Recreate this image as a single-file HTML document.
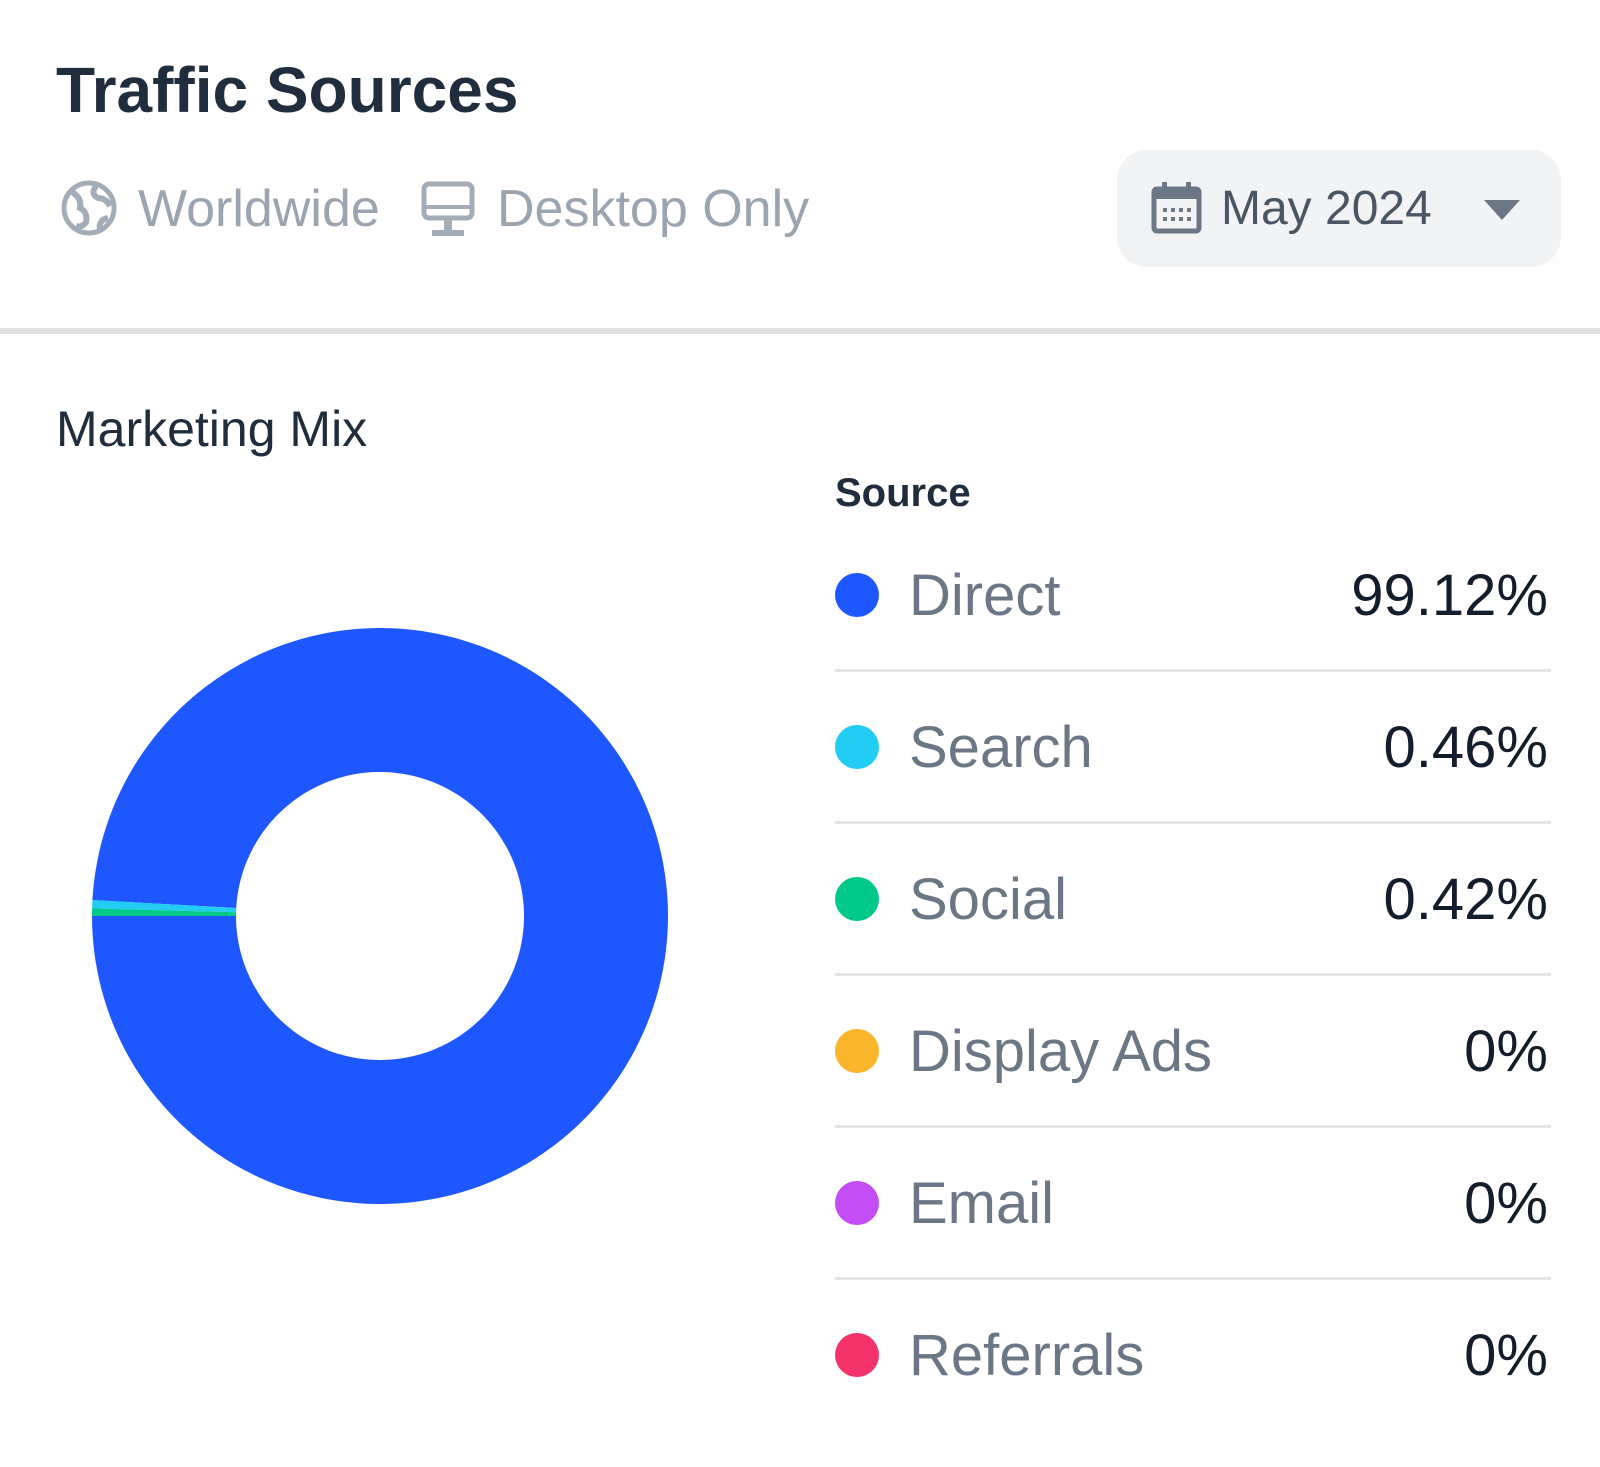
<!DOCTYPE html>
<html><head><meta charset="utf-8">
<style>
html,body{margin:0;padding:0;background:#fff;}
body{width:1600px;height:1462px;overflow:hidden;font-family:"Liberation Sans",sans-serif;}
</style></head>
<body>
<svg width="1600" height="1462" viewBox="0 0 1600 1462" xmlns="http://www.w3.org/2000/svg">
  <rect x="0" y="0" width="1600" height="1462" fill="#fff"/>
  <text x="56" y="112" font-family="Liberation Sans, sans-serif" font-weight="bold" font-size="64" fill="#1f2d3d">Traffic Sources</text>

  <g>
    <circle cx="89" cy="208" r="25" fill="none" stroke="#a3adb8" stroke-width="5"/>
    <path d="M72 192 q10 6 8 16 q8 4 6 14 q-4 6 -10 4 M96 186 q-6 8 2 12 q8 0 12 8 M100 230 q-2 -10 8 -12" fill="none" stroke="#a3adb8" stroke-width="6"/>
    <text x="138" y="226" font-size="52" fill="#9aa5b1">Worldwide</text>
  </g>
  <g>
    <rect x="424" y="184" width="48" height="34" rx="5" fill="none" stroke="#a3adb8" stroke-width="5"/>
    <line x1="424" y1="207" x2="472" y2="207" stroke="#a3adb8" stroke-width="4"/>
    <rect x="444" y="218" width="8" height="12" fill="#a3adb8"/>
    <rect x="432" y="230" width="32" height="6" fill="#a3adb8"/>
    <text x="497" y="226" font-size="52" fill="#9aa5b1">Desktop Only</text>
  </g>

  <g>
    <rect x="1117" y="150" width="444" height="117" rx="30" fill="#f2f3f5"/>
    <g>
      <rect x="1154" y="189" width="45" height="42" rx="3" fill="none" stroke="#6b7785" stroke-width="5"/>
      <rect x="1154" y="189" width="45" height="10" fill="#6b7785"/>
      <rect x="1162" y="182" width="5" height="10" fill="#6b7785"/>
      <rect x="1186" y="182" width="5" height="10" fill="#6b7785"/>
      <g fill="#6b7785">
        <rect x="1163" y="208" width="4" height="4"/><rect x="1171" y="208" width="4" height="4"/><rect x="1179" y="208" width="4" height="4"/><rect x="1187" y="208" width="4" height="4"/>
        <rect x="1163" y="217" width="4" height="4"/><rect x="1171" y="217" width="4" height="4"/><rect x="1179" y="217" width="4" height="4"/><rect x="1187" y="217" width="4" height="4"/>
      </g>
    </g>
    <text x="1221" y="224" font-size="48" fill="#4a5663">May 2024</text>
    <path d="M1484 200 L1520 200 L1502 220 Z" fill="#6b7785"/>
  </g>

  <rect x="0" y="328" width="1600" height="6" fill="#e0e0e0"/>

  <text x="56" y="446" font-size="50" fill="#1f2d3d">Marketing Mix</text>

  <g id="donut"></g>
  <g id="legend">
    <text x="835" y="506" font-size="40" font-weight="bold" fill="#1f2d3d">Source</text>
  </g>
</svg>
<script>
const categories = ["Direct","Search","Social","Display Ads","Email","Referrals"];
const values = [99.12, 0.46, 0.42, 0, 0, 0];
const valueLabels = ["99.12%","0.46%","0.42%","0%","0%","0%"];
const colors = ["#1f57ff","#22ccf2","#00c98a","#fbb52b","#c44cf5","#f5336b"];

const NS = "http://www.w3.org/2000/svg";
const cx = 380, cy = 916, rOut = 288, rIn = 144;
const donut = document.getElementById('donut');
const total = values.reduce((a,b)=>a+b,0);
function pt(r, a){ return [cx + r*Math.cos(a), cy + r*Math.sin(a)]; }
// start at west, go counterclockwise (screen): angle decreasing in SVG coords
let ang = Math.PI;
values.forEach((v,i)=>{
  if (v <= 0) return;
  const sweep = v/total*2*Math.PI;
  const a0 = ang, a1 = ang - sweep;
  const large = sweep > Math.PI ? 1 : 0;
  const [x0,y0] = pt(rOut,a0), [x1,y1] = pt(rOut,a1), [x2,y2] = pt(rIn,a1), [x3,y3] = pt(rIn,a0);
  const p = document.createElementNS(NS,'path');
  p.setAttribute('d', `M${x0} ${y0} A${rOut} ${rOut} 0 ${large} 0 ${x1} ${y1} L${x2} ${y2} A${rIn} ${rIn} 0 ${large} 1 ${x3} ${y3} Z`);
  p.setAttribute('fill', colors[i]);
  
  
  donut.appendChild(p);
  ang = a1;
});

const legend = document.getElementById('legend');
const rowY0 = 595, rowStep = 152;
categories.forEach((c,i)=>{
  const y = rowY0 + i*rowStep;
  const g = document.createElementNS(NS,'g');
  
  
  const dot = document.createElementNS(NS,'circle');
  dot.setAttribute('cx', 857); dot.setAttribute('cy', y); dot.setAttribute('r', 22);
  dot.setAttribute('fill', colors[i]);
  
  
  const t = document.createElementNS(NS,'text');
  t.setAttribute('x', 909); t.setAttribute('y', y + 20);
  t.setAttribute('font-size', 58); t.setAttribute('fill', '#6b7785');
  t.textContent = c;
  
  
  const vt = document.createElementNS(NS,'text');
  vt.setAttribute('x', 1548); vt.setAttribute('y', y + 20);
  vt.setAttribute('font-size', 58); vt.setAttribute('fill', '#141d2b');
  vt.setAttribute('text-anchor', 'end');
  vt.textContent = valueLabels[i];
  
  
  g.appendChild(dot); g.appendChild(t); g.appendChild(vt);
  if (i < categories.length - 1) {
    const ln = document.createElementNS(NS,'rect');
    ln.setAttribute('x', 835); ln.setAttribute('y', y + 74);
    ln.setAttribute('width', 716); ln.setAttribute('height', 3);
    ln.setAttribute('fill', '#e3e5e8');
    
    
    g.appendChild(ln);
  }
  legend.appendChild(g);
});
</script>
</body></html>
